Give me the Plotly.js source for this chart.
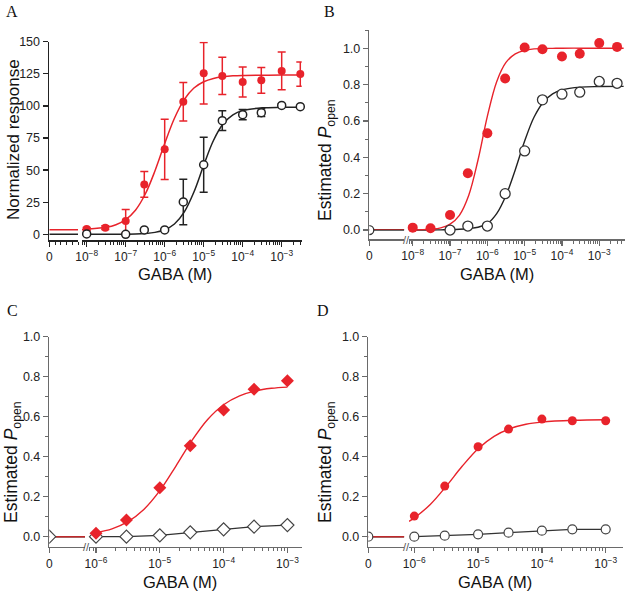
<!DOCTYPE html>
<html>
<head>
<meta charset="utf-8">
<script src="https://cdn.plot.ly/plotly-3.0.1.min.js"></script>
<style>html,body{margin:0;padding:0;background:#fff;}#chart{width:629px;height:596px;}</style>
</head>
<body>
<div id="chart"></div>
<script>
// ---------- DATA ----------
// zero-concentration segment (linear "0" axis)
const zeroX = [0, 1];
const zeroTick = [0];
const zeroTickText = ['0'];

// Panel A : normalized response
const concA = [1e-8, 3e-8, 1e-7, 3e-7, 1e-6, 3e-6, 1e-5, 3e-5, 1e-4, 3e-4, 1e-3, 3e-3];
const aRed = [4.2, 5.2, 10.4, 38.9, 66.2, 103.3, 125.4, 123.3, 118.6, 119.9, 127.2, 124.8];
const aRedErr = [1.2, 1.5, 9, 10, 23.5, 15, 24, 14.5, 11.7, 10, 14.7, 9.4];
const concAblack = [1e-8, 1e-7, 3e-7, 1e-6, 3e-6, 1e-5, 3e-5, 1e-4, 3e-4, 1e-3, 3e-3];
const aBlack = [0.3, 0, 3.4, 3.4, 25.2, 54.2, 88.5, 93.2, 94.7, 100.4, 99.4];
const aBlackErr = [0.5, 0.5, 1, 1, 17.7, 21.5, 7.7, 4, 3, 1, 1];
const fitAx = [7.6e-9, 1e-8, 3.16e-8, 5.62e-8, 1e-7, 1.78e-7, 3.16e-7, 5.62e-7, 1e-6, 1.78e-6, 3.16e-6, 5.62e-6, 1e-5, 1.78e-5, 3.16e-5, 5.62e-5, 1e-4, 3.16e-4, 1e-3, 3.26e-3];
const fitAred = [3.8, 4.0, 5.5, 7.5, 11.5, 18.8, 31.2, 49.3, 70.7, 90.4, 104.9, 113.9, 118.8, 121.4, 122.7, 123.4, 123.7, 123.9, 124.0, 124.0];
const fitAblack = [0, 0, 0, 0.05, 0.12, 0.28, 0.66, 1.54, 3.59, 8.1, 17.3, 33.0, 53.8, 73.1, 86.1, 93.1, 96.4, 98.5, 98.9, 99.0];
const zeroAred = [3.5, 3.5];
const zeroAblack = [0, 0];
const ticksA = [0, 25, 50, 75, 100, 125, 150];

// Panel B : estimated Popen
const concB = [1e-8, 3e-8, 1e-7, 3e-7, 1e-6, 3e-6, 1e-5, 3e-5, 1e-4, 3e-4, 1e-3, 3e-3];
const bRed = [0.013, 0.01, 0.083, 0.312, 0.532, 0.833, 1.004, 0.994, 0.954, 0.969, 1.028, 1.007];
const concBblack = [1e-7, 3e-7, 1e-6, 3e-6, 1e-5, 3e-5, 1e-4, 3e-4, 1e-3, 3e-3];
const bBlack = [0, 0.022, 0.022, 0.2, 0.435, 0.716, 0.747, 0.758, 0.817, 0.807];
const bBlackZero = [0];
const fitBx = [7.94e-9, 3.16e-8, 5.62e-8, 1e-7, 1.78e-7, 3.16e-7, 5.62e-7, 1e-6, 1.78e-6, 3.16e-6, 5.62e-6, 1e-5, 1.78e-5, 3.16e-5, 5.62e-5, 1e-4, 3.16e-4, 1e-3, 4.5e-3];
const fitBred = [0.0, 0.005, 0.012, 0.032, 0.081, 0.19, 0.385, 0.625, 0.816, 0.922, 0.969, 0.988, 0.996, 0.998, 0.999, 1.0, 1.0, 1.0, 1.0];
const fitBblack = [0, 0, 0.001, 0.002, 0.004, 0.008, 0.015, 0.035, 0.09, 0.19, 0.332, 0.489, 0.62, 0.703, 0.749, 0.771, 0.786, 0.789, 0.79];
const zeroBred = [0.003, 0.003];
const zeroBblack = [0, 0];

// Panel C
const concC = [1e-6, 3e-6, 1e-5, 3e-5, 1e-4, 3e-4, 1e-3];
const cRed = [0.017, 0.083, 0.245, 0.455, 0.633, 0.737, 0.78];
const cBlack = [0, 0, 0.007, 0.022, 0.037, 0.05, 0.058];
const cBlackZero = [0];
const fitCx = [1e-6, 1.78e-6, 3.16e-6, 5.62e-6, 1e-5, 1.78e-5, 3.16e-5, 5.62e-5, 1e-4, 1.78e-4, 3.16e-4, 5.62e-4, 1e-3];
const fitCred = [0.02, 0.039, 0.075, 0.136, 0.23, 0.352, 0.479, 0.586, 0.66, 0.704, 0.729, 0.742, 0.748];
const zeroCred = [0, 0];
const zeroCblack = [0, 0];

// Panel D
const concD = [1e-6, 3e-6, 1e-5, 3e-5, 1e-4, 3e-4, 1e-3];
const dRed = [0.103, 0.253, 0.45, 0.538, 0.588, 0.58, 0.58];
const dBlack = [0, 0.005, 0.012, 0.02, 0.03, 0.037, 0.037];
const dBlackZero = [0];
const fitDx = [8.26e-7, 1e-6, 1.78e-6, 3.16e-6, 5.62e-6, 1e-5, 1.78e-5, 3.16e-5, 5.62e-5, 1e-4, 3.16e-4, 1e-3];
const fitDred = [0.077, 0.094, 0.161, 0.252, 0.352, 0.44, 0.502, 0.54, 0.562, 0.573, 0.582, 0.585];
const zeroDred = [0, 0];
const zeroDblack = [0, 0];

// tick labels
const logTicksAB = [1e-8, 1e-7, 1e-6, 1e-5, 1e-4, 1e-3];
const logTextAB = ['10<sup>−8</sup>', '10<sup>−7</sup>', '10<sup>−6</sup>', '10<sup>−5</sup>', '10<sup>−4</sup>', '10<sup>−3</sup>'];
const logTicksCD = [1e-6, 1e-5, 1e-4, 1e-3];
const logTextCD = ['10<sup>−6</sup>', '10<sup>−5</sup>', '10<sup>−4</sup>', '10<sup>−3</sup>'];

// ---------- STYLE / LAYOUT ----------
const W = 629, H = 596;
const RED = '#e8232b';
const FONT = 'Liberation Sans, Arial, Helvetica, sans-serif';
const px = (a, b) => [a / W, b / W];
const py = (top, bottom) => [1 - bottom / H, 1 - top / H];

function linX(dom, yId, col, lw, extra) {
  return Object.assign({
    domain: dom, range: [0, 1], anchor: yId,
    tickmode: 'array', tickvals: zeroTick, ticktext: zeroTickText,
    ticks: 'outside', ticklen: 5, tickwidth: 1.3, tickcolor: col,
    showline: true, linecolor: col, linewidth: lw,
    showgrid: false, zeroline: false,
    tickfont: {family: FONT, size: 12, color: '#222'}
  }, extra || {});
}
function logX(dom, yId, range, tv, tt, col, lw) {
  return {
    domain: dom, type: 'log', range: range, anchor: yId,
    tickmode: 'array', tickvals: tv, ticktext: tt,
    ticks: 'outside', ticklen: 5, tickwidth: 1.3, tickcolor: col,
    minor: {ticks: 'outside', ticklen: 3, tickwidth: 1, tickcolor: col, dtick: 'D1', showgrid: false},
    showline: true, linecolor: col, linewidth: lw,
    showgrid: false, zeroline: false,
    tickfont: {family: FONT, size: 12, color: '#222'}
  };
}
function yAx(dom, xId, range, col, lw, extra) {
  return Object.assign({
    domain: dom, range: range, anchor: xId,
    ticks: 'outside', ticklen: 5, tickwidth: 1.3, tickcolor: col,
    showline: true, linecolor: col, linewidth: lw,
    showgrid: false, zeroline: false,
    tickfont: {family: FONT, size: 12.5, color: '#222'}
  }, extra || {});
}

const BLK = '#222';
const GRY = '#6a6a6a';

function line(x, y, xa, ya, color, w, shape) {
  return {x: x, y: y, xaxis: xa, yaxis: ya, mode: 'lines', line: {color: color, width: w, shape: shape || 'spline'}, hoverinfo: 'skip', showlegend: false};
}
function pts(x, y, xa, ya, sym, size, fill, lc, lw, clip, extra) {
  return Object.assign({x: x, y: y, xaxis: xa, yaxis: ya, mode: 'markers', cliponaxis: clip,
    marker: {symbol: sym, size: size, color: fill, line: {color: lc, width: lw}}, showlegend: false}, extra || {});
}

const traces = [
  // Panel A
  line(zeroX, zeroAblack, 'x', 'y', BLK, 1.5, 'linear'),
  line(zeroX, zeroAred, 'x', 'y', RED, 1.5, 'linear'),
  line(fitAx, fitAblack, 'x2', 'y', BLK, 1.5),
  line(fitAx, fitAred, 'x2', 'y', RED, 1.5),
  pts(concA, aRed, 'x2', 'y', 'circle', 8, RED, RED, 0, false,
      {error_y: {type: 'data', array: aRedErr, color: RED, thickness: 1.5, width: 4}}),
  pts(concAblack, aBlack, 'x2', 'y', 'circle', 8, '#fff', BLK, 1.5, false,
      {error_y: {type: 'data', array: aBlackErr, color: BLK, thickness: 1.5, width: 4}}),

  // Panel B
  line(zeroX, zeroBblack, 'x3', 'y2', '#333', 1.5, 'linear'),
  line(zeroX, zeroBred, 'x3', 'y2', '#9a2a2a', 1.2, 'linear'),
  pts([0], bBlackZero, 'x3', 'y2', 'circle', 9, '#fff', '#333', 1.3, true),
  line(fitBx, fitBblack, 'x4', 'y2', '#222', 1.4),
  line(fitBx, fitBred, 'x4', 'y2', RED, 1.4),
  pts(concB, bRed, 'x4', 'y2', 'circle', 10, RED, RED, 0, false),
  pts(concBblack, bBlack, 'x4', 'y2', 'circle', 10, '#fff', '#333', 1.3, false),

  // Panel C
  line(zeroX, zeroCblack, 'x5', 'y3', '#333', 1.5, 'linear'),
  line(zeroX, zeroCred, 'x5', 'y3', '#c0282a', 1.5, 'linear'),
  pts([0], cBlackZero, 'x5', 'y3', 'diamond', 10, '#fff', '#444', 1.2, true),
  line(fitCx, fitCred, 'x6', 'y3', RED, 1.4),
  pts(concC, cBlack, 'x6', 'y3', 'diamond', 10, '#fff', '#444', 1.2, false,
      {mode: 'lines+markers', line: {color: '#333', width: 1.3}}),
  pts(concC, cRed, 'x6', 'y3', 'diamond', 10, RED, RED, 0, false),

  // Panel D
  line(zeroX, zeroDblack, 'x7', 'y4', '#333', 1.5, 'linear'),
  line(zeroX, zeroDred, 'x7', 'y4', '#c0282a', 1.5, 'linear'),
  pts([0], dBlackZero, 'x7', 'y4', 'circle', 9, '#fff', '#444', 1.2, true),
  line(fitDx, fitDred, 'x8', 'y4', RED, 1.4),
  pts(concD, dBlack, 'x8', 'y4', 'circle', 9, '#fff', '#444', 1.2, false,
      {mode: 'lines+markers', line: {color: '#333', width: 1.3}}),
  pts(concD, dRed, 'x8', 'y4', 'circle', 9, RED, RED, 0, false)
];

function ann(text, x, y, size, opts) {
  return Object.assign({text: text, x: x / W, y: 1 - y / H, xref: 'paper', yref: 'paper',
    showarrow: false, xanchor: 'center', yanchor: 'middle',
    font: {family: FONT, size: size, color: '#111'}}, opts || {});
}
const SERIF = 'Liberation Serif, Times New Roman, serif';
const popen = 'Estimated <i>P</i><sub>open</sub>';

const layout = {
  width: W, height: H,
  margin: {l: 0, r: 0, t: 0, b: 0},
  paper_bgcolor: '#fff', plot_bgcolor: 'rgba(0,0,0,0)',
  showlegend: false,
  // Panel A
  xaxis: linX(px(49.3, 78), 'y', BLK, 1.8, {minor: {ticks: 'outside', ticklen: 3, tickwidth: 1, tickcolor: BLK, dtick: 0.2}}),
  xaxis2: logX(px(82, 301.7), 'y', [-8.12, -2.487], logTicksAB, logTextAB, BLK, 1.8),
  yaxis: yAx(py(41.7, 240), 'x', [-4.4, 150], BLK, 1.8, {tickmode: 'array', tickvals: ticksA}),
  // Panel B
  xaxis3: linX(px(369.3, 404.3), 'y2', GRY, 1.5),
  xaxis4: logX(px(409, 625), 'y2', [-8.1, -2.31], logTicksAB, logTextAB, GRY, 1.5),
  yaxis2: yAx(py(30, 239.3), 'x3', [-0.051, 1.1], GRY, 1.5,
    {tick0: 0, dtick: 0.2, tickformat: '.1f', minor: {ticks: 'outside', ticklen: 3, tickwidth: 1, tickcolor: GRY, dtick: 0.1}}),
  // Panel C
  xaxis5: linX(px(49.3, 85), 'y3', GRY, 1.5),
  xaxis6: logX(px(89.3, 301.7), 'y3', [-6.105, -2.776], logTicksCD, logTextCD, GRY, 1.5),
  yaxis3: yAx(py(336.7, 546.7), 'x5', [-0.05, 1.0], GRY, 1.5,
    {tick0: 0, dtick: 0.2, tickformat: '.1f', minor: {ticks: 'outside', ticklen: 3, tickwidth: 1, tickcolor: GRY, dtick: 0.1}}),
  // Panel D
  xaxis7: linX(px(368.3, 404.3), 'y4', GRY, 1.5),
  xaxis8: logX(px(409, 623.3), 'y4', [-6.083, -2.724], logTicksCD, logTextCD, GRY, 1.5),
  yaxis4: yAx(py(336.7, 546.7), 'x7', [-0.05, 1.0], GRY, 1.5,
    {tick0: 0, dtick: 0.2, tickformat: '.1f', minor: {ticks: 'outside', ticklen: 3, tickwidth: 1, tickcolor: GRY, dtick: 0.1}}),
  annotations: [
    ann('A', 12, 11, 16, {font: {family: SERIF, size: 16, color: '#111'}}),
    ann('B', 329, 11, 16, {font: {family: SERIF, size: 16, color: '#111'}}),
    ann('C', 12, 310, 16, {font: {family: SERIF, size: 16, color: '#111'}}),
    ann('D', 323, 310, 16, {font: {family: SERIF, size: 16, color: '#111'}}),
    ann('GABA (M)', 175, 274, 16.5),
    ann('GABA (M)', 497, 274, 16.5),
    ann('GABA (M)', 180, 582, 16.5),
    ann('GABA (M)', 495, 582, 16.5),
    ann('Normalized response', 13, 140, 17, {textangle: -90}),
    ann(popen, 326, 160, 17.5, {textangle: -90}),
    ann(popen, 12, 462, 17.5, {textangle: -90}),
    ann(popen, 326, 462, 17.5, {textangle: -90}),
    ann('//', 406.5, 240, 11, {font: {family: FONT, size: 11, color: '#555'}}),
    ann('//', 87, 547, 11, {font: {family: FONT, size: 11, color: '#555'}}),
    ann('//', 406.5, 547, 11, {font: {family: FONT, size: 11, color: '#555'}})
  ]
};

Plotly.newPlot('chart', traces, layout, {staticPlot: true, displayModeBar: false});
</script>
</body>
</html>
